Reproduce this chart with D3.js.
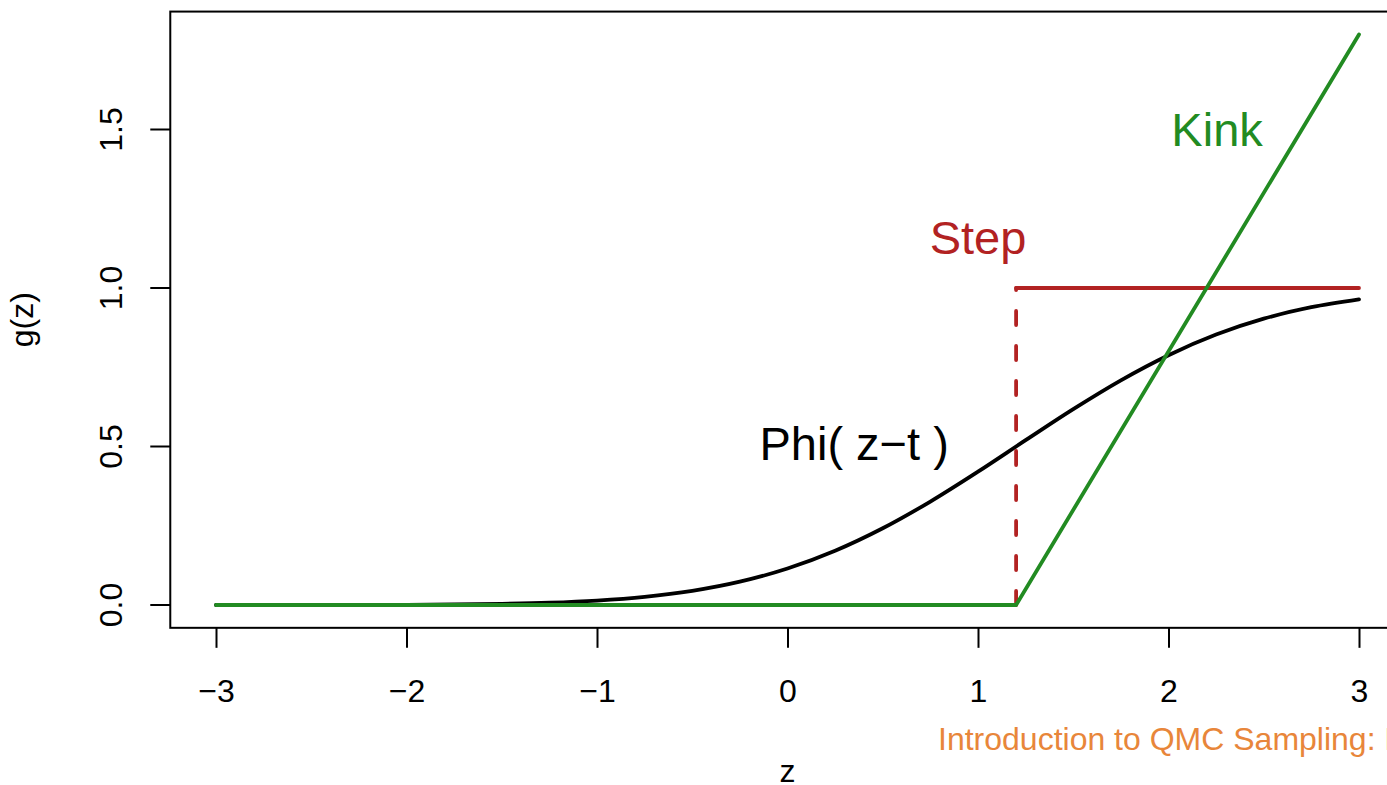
<!DOCTYPE html>
<html>
<head>
<meta charset="utf-8">
<script src="https://cdn.jsdelivr.net/npm/d3@7"></script>
<style>
  html, body { margin: 0; padding: 0; background: #fff; overflow: hidden; }
  svg { display: block; font-family: "Liberation Sans", Arial, Helvetica, sans-serif; }
</style>
</head>
<body>
<svg id="chart" width="1387" height="785"></svg>
<script>
// ---- data ----
const threshold = 1.2;
const zGrid = [-3, -2.75, -2.5, -2.25, -2, -1.75, -1.5, -1.25, -1, -0.75, -0.5, -0.25,
               0, 0.25, 0.5, 0.75, 1, 1.25, 1.5, 1.75, 2, 2.25, 2.5, 2.75, 3];
const phiValues = [0.0000, 0.0000, 0.0001, 0.0003, 0.0007, 0.0016, 0.0035, 0.0071, 0.0139,
                   0.0256, 0.0446, 0.0735, 0.1151, 0.1711, 0.2420, 0.3264, 0.4207, 0.5199,
                   0.6179, 0.7088, 0.7881, 0.8531, 0.9032, 0.9394, 0.9641];
const stepZ = [-3, 1.2, 1.2, 3];
const stepG = [0, 0, 1, 1];
const kinkZ = [-3, 1.2, 3];
const kinkG = [0, 0, 1.8];
const xTicks = [-3, -2, -1, 0, 1, 2, 3];
const yTicks = [0.0, 0.5, 1.0, 1.5];
const labels = [
  { text: "Kink", z: 2.255, g: 1.5, color: "#228B22" },
  { text: "Step", z: 1.0, g: 1.16, color: "#B22222" },
  { text: "Phi( z\u2212t )", z: 0.35, g: 0.508, color: "#000000" }
];
const xTitle = "z";
const yTitle = "g(z)";
const footer = "Introduction to QMC Sampling: Part I";

// ---- scales ----
const svg = d3.select("#chart");
const x = d3.scaleLinear().domain([-3, 3]).range([216, 1359]);
const y = d3.scaleLinear().domain([0, 1]).range([605, 288]);
const xLo = -3.24, xHi = 3.24, yLo = -0.072, yHi = 1.872;

const green = "#228B22", red = "#B22222";
const lw = 3.8;
const fmt = d3.format(".1f");
const minus = s => s.replace("-", "\u2212");

// ---- lines ----
const phiLine = d3.line().x(d => x(d[0])).y(d => y(d[1])).curve(d3.curveMonotoneX);
svg.append("path")
  .attr("d", phiLine(zGrid.map((z, i) => [z, phiValues[i]])))
  .attr("fill", "none").attr("stroke", "#000").attr("stroke-width", lw)
  .attr("stroke-linecap", "round");

const lin = d3.line().x(d => x(d[0])).y(d => y(d[1]));
// step: horizontal parts solid, vertical part dashed
svg.append("path")
  .attr("d", lin([[stepZ[0], stepG[0]], [stepZ[1], stepG[1]]]))
  .attr("fill", "none").attr("stroke", red).attr("stroke-width", lw);
svg.append("path")
  .attr("d", lin([[stepZ[1], stepG[1]], [stepZ[2], stepG[2]]]))
  .attr("fill", "none").attr("stroke", red).attr("stroke-width", lw)
  .attr("stroke-dasharray", "14,21").attr("stroke-linecap", "round");
svg.append("path")
  .attr("d", lin([[stepZ[2], stepG[2]], [stepZ[3], stepG[3]]]))
  .attr("fill", "none").attr("stroke", red).attr("stroke-width", lw)
  .attr("stroke-linecap", "round");

svg.append("path")
  .attr("d", lin(kinkZ.map((z, i) => [z, kinkG[i]])))
  .attr("fill", "none").attr("stroke", green).attr("stroke-width", lw)
  .attr("stroke-linecap", "round").attr("stroke-linejoin", "round");

// ---- box ----
svg.append("rect")
  .attr("x", x(xLo)).attr("y", y(yHi))
  .attr("width", x(xHi) - x(xLo)).attr("height", y(yLo) - y(yHi))
  .attr("fill", "none").attr("stroke", "#000").attr("stroke-width", 2);

// ---- x axis ----
const xAxis = d3.axisBottom(x).tickValues(xTicks).tickSize(20).tickPadding(31)
  .tickFormat(d => minus(String(d)));
const gx = svg.append("g").attr("transform", `translate(0,${y(yLo)})`).call(xAxis);
gx.select(".domain").remove();
gx.selectAll(".tick line").attr("stroke", "#000").attr("stroke-width", 2);
gx.selectAll(".tick text").attr("font-size", 32).attr("fill", "#000")
  .attr("font-family", "Liberation Sans, Arial, sans-serif");

// ---- y axis ----
const gy = svg.append("g");
yTicks.forEach(v => {
  gy.append("line").attr("x1", x(xLo) - 20).attr("x2", x(xLo))
    .attr("y1", y(v)).attr("y2", y(v)).attr("stroke", "#000").attr("stroke-width", 2);
  gy.append("text").attr("transform", `translate(122,${y(v)}) rotate(-90)`)
    .attr("text-anchor", "middle").attr("font-size", 32).text(fmt(v));
});

// ---- axis titles ----
svg.append("text").attr("x", (x(xLo) + x(xHi)) / 2).attr("y", 782)
  .attr("text-anchor", "middle").attr("font-size", 32).text(xTitle);
svg.append("text").attr("transform", `translate(33,${(y(yLo) + y(yHi)) / 2}) rotate(-90)`)
  .attr("text-anchor", "middle").attr("font-size", 32).text(yTitle);

// ---- curve labels ----
labels.forEach(l => {
  svg.append("text").attr("x", x(l.z)).attr("y", y(l.g)).attr("dy", "0.35em")
    .attr("text-anchor", "middle").attr("font-size", 47).attr("fill", l.color).text(l.text);
});

// ---- footer ----
svg.append("text").attr("x", 938).attr("y", 750).attr("font-size", 32)
  .attr("fill", "#E8863A").text(footer);
</script>
</body>
</html>
